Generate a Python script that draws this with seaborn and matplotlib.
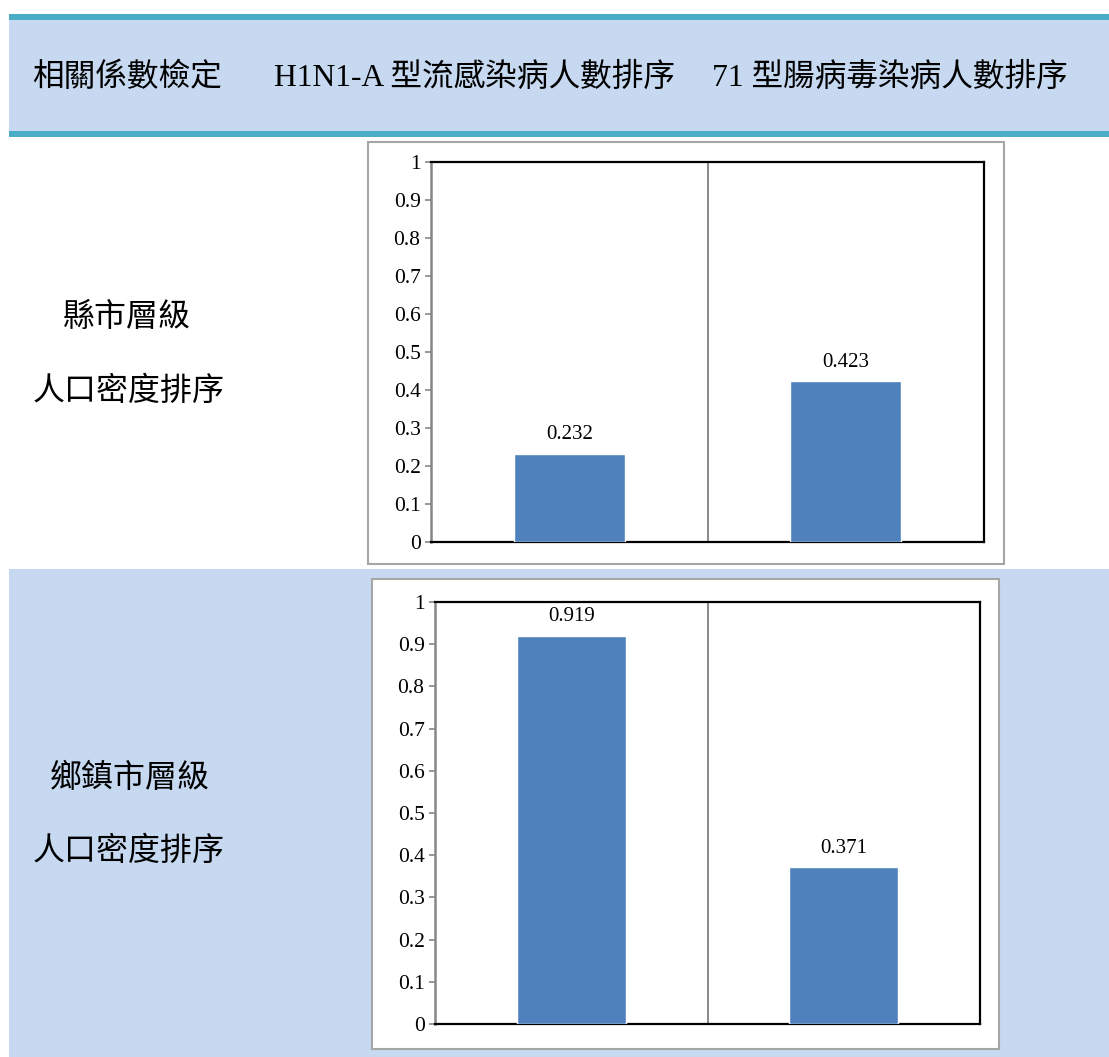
import matplotlib
matplotlib.use("Agg")
import matplotlib.pyplot as plt
from matplotlib.patches import Rectangle
import seaborn as sns
import pandas as pd

# Data
categories = ["H1N1-A 型流感染病人數排序", "71 型腸病毒染病人數排序"]
county_corr = [0.232, 0.423]      # 縣市層級 人口密度排序
township_corr = [0.919, 0.371]    # 鄉鎮市層級 人口密度排序
y_ticks = [0, 0.1, 0.2, 0.3, 0.4, 0.5, 0.6, 0.7, 0.8, 0.9, 1]
y_tick_labels = ["0", "0.1", "0.2", "0.3", "0.4", "0.5", "0.6", "0.7", "0.8", "0.9", "1"]
header_texts = ["相關係數檢定"] + categories
row_labels = [["縣市層級", "人口密度排序"], ["鄉鎮市層級", "人口密度排序"]]

sns.set_theme(style="white")
FONTS = ["Liberation Serif", "Noto Sans CJK TC", "DejaVu Sans"]
plt.rcParams["font.family"] = FONTS

W, H = 1109, 1057
fig = plt.figure(figsize=(W / 100, H / 100), dpi=100)
fig.patch.set_facecolor("white")

BLUE_BG = "#C6D9F0"
TEAL = "#4BACC6"
BAR = "#4F81BD"


def frect(x0, y0, x1, y1, **kw):
    """Rectangle given in pixel coordinates measured from the top-left."""
    r = Rectangle((x0 / W, 1 - y1 / H), (x1 - x0) / W, (y1 - y0) / H,
                  transform=fig.transFigure, **kw)
    fig.patches.append(r)
    return r


def add_axes_px(x0, y0, x1, y1):
    return fig.add_axes([x0 / W, 1 - y1 / H, (x1 - x0) / W, (y1 - y0) / H])


# Table backgrounds
frect(9, 14, W, 137, facecolor=BLUE_BG, edgecolor="none", zorder=0)
frect(9, 14, W, 20, facecolor=TEAL, edgecolor="none", zorder=1)
frect(9, 131, W, 137, facecolor=TEAL, edgecolor="none", zorder=1)
frect(9, 569, W, H, facecolor=BLUE_BG, edgecolor="none", zorder=0)

# Header texts
header_x = [32, 274, 712]
for x, t in zip(header_x, header_texts):
    fig.text(x / W, 1 - 78 / H, t, fontsize=22.8, family=FONTS,
             ha="left", va="center", color="black")

# Row labels
label_pos = [[(63, 318), (33, 392)], [(50, 779), (33, 852)]]
for labels, positions in zip(row_labels, label_pos):
    for t, (x, y) in zip(labels, positions):
        fig.text(x / W, 1 - y / H, t, fontsize=23, family=FONTS,
                 ha="left", va="center", color="black")

# Chart frames
frect(368, 142, 1004, 564, facecolor="white", edgecolor="#A6A6A6",
      linewidth=1.5, zorder=2)
frect(372, 579, 999, 1049, facecolor="white", edgecolor="#A6A6A6",
      linewidth=1.5, zorder=2)

axes_boxes = [(431, 162, 984, 542), (435, 602, 980, 1024)]
series = [county_corr, township_corr]

for box, values in zip(axes_boxes, series):
    ax = add_axes_px(*box)
    ax.set_zorder(3)
    df = pd.DataFrame({"category": categories, "value": values})
    sns.barplot(data=df, x="category", y="value", color=BAR, saturation=1,
                width=0.4, ax=ax, zorder=3)
    ax.set_xlim(-0.5, len(categories) - 0.5)
    ax.set_ylim(0, 1)
    ax.set_yticks(y_ticks)
    ax.set_yticklabels(y_tick_labels, fontsize=15.5, family="Liberation Serif")
    ax.set_xticks([])
    ax.set_xlabel("")
    ax.set_ylabel("")
    ax.set_facecolor("white")
    # category separator
    for b in range(1, len(categories)):
        ax.axvline(b - 0.5, color="#7F7F7F", linewidth=1.3, zorder=1)
    for side in ["top", "right", "bottom"]:
        ax.spines[side].set_color("black")
        ax.spines[side].set_linewidth(1.6)
        ax.spines[side].set_visible(True)
    ax.spines["left"].set_color("#868686")
    ax.spines["left"].set_linewidth(1.8)
    ax.spines["left"].set_visible(True)
    ax.tick_params(axis="y", direction="out", length=4.5, width=1.2,
                   color="#868686", pad=3, labelcolor="black", left=True)
    for c in ax.containers:
        ax.bar_label(c, fmt="{:.3f}", padding=7, fontsize=15,
                     family="Liberation Serif", color="black")

fig.savefig("out.png", dpi=100)
